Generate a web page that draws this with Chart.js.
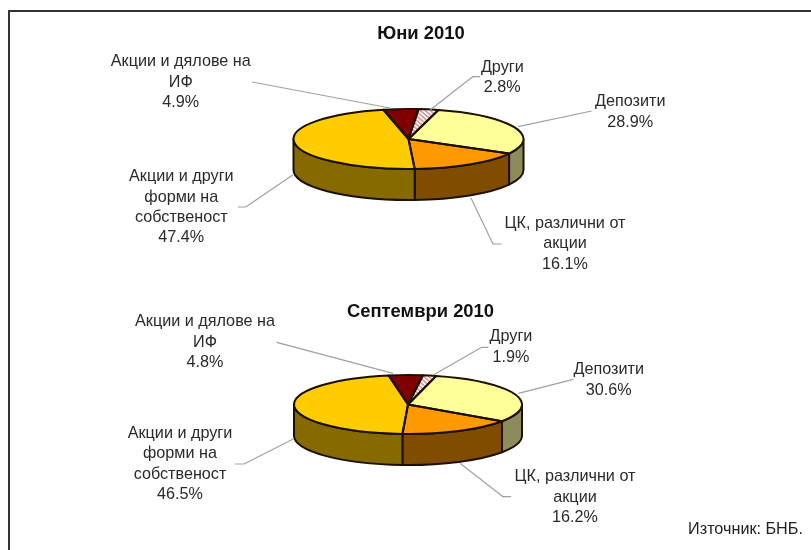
<!DOCTYPE html>
<html><head><meta charset="utf-8">
<style>
html,body{margin:0;padding:0;background:#fff;overflow:hidden}
#page{position:relative;width:811px;height:550px;overflow:hidden;background:#fff}
#frameTop{position:absolute;left:8px;top:10px;width:803px;height:2px;background:#333}
#frameLeft{position:absolute;left:8px;top:10px;width:2px;height:540px;background:#333}
canvas{position:absolute;left:0;filter:blur(0.45px)}
</style>
<script src="https://cdn.jsdelivr.net/npm/chart.js@4"></script>
</head><body>
<div id="page">
<div id="frameTop"></div><div id="frameLeft"></div>
<canvas id="c1" width="811" height="275" style="top:0"></canvas>
<canvas id="c2" width="811" height="275" style="top:275px"></canvas>
</div>
<script>
const categories = ['Други','Депозити','ЦК, различни от акции','Акции и други форми на собственост','Акции и дялове на ИФ'];
const titleJune = 'Юни 2010';
const titleSeptember = 'Септември 2010';
const sourceNote = 'Източник: БНБ.';
const valuesJune = [2.8,28.9,16.1,47.4,4.9];
const valuesSeptember = [1.9,30.6,16.2,46.5,4.8];
const labelLines = [['Други'],['Депозити'],['ЦК, различни от','акции'],['Акции и други','форми на','собственост'],['Акции и дялове на','ИФ']];
const topColors = ['#f7dada','#FFFF99','#FF9900','#FFCC00','#800000'];
const sideColors = ['#7c6d6d','#8b8b5c','#804D00','#866A00','#400000'];

function hatch(){
  const c=document.createElement('canvas');c.width=c.height=5;
  const x=c.getContext('2d');x.fillStyle='#fff';x.fillRect(0,0,5,5);
  x.strokeStyle='#d98f8f';x.lineWidth=1.6;
  x.beginPath();x.moveTo(-1,6);x.lineTo(6,-1);x.moveTo(-1,1);x.lineTo(1,-1);x.moveTo(4,6);x.lineTo(6,4);x.stroke();
  return x.createPattern(c,'repeat');
}

// page-pixel layout of the annotations, per slice in category order
const layoutJune = {
  title:[421,34], offset:0, rotation:5, cy:139, cx:408.5, rx:115, ry:30, depth:31,
  labels:[[502.3,67.3],[630.3,101.7],[565,223.3],[181.3,176.7],[180.8,61.7]],
  leaders:[
    [[480,76.7],[472.7,76.7],[430,110]],
    [[591.7,111],[518,126.7]],
    [[501.7,244],[493,244],[471,198]],
    [[238,207],[245.7,207],[292.7,175]],
    [[252,82],[390,108]]
  ]
};
const layoutSeptember = {
  title:[420.5,312.3], offset:275, rotation:7.5, cy:404.5, cx:408, rx:114, ry:29.5, depth:31,
  labels:[[511,336.7],[608.7,369.7],[575,476.7],[180,433.3],[205,321.7]],
  leaders:[
    [[488.3,347.3],[481.7,347.3],[433.3,375]],
    [[573.3,379.3],[518.3,393.3]],
    [[511,496.7],[503,496.7],[460,463.3]],
    [[235,464],[244,464],[293.3,439]],
    [[276.7,342.3],[393,373.3]]
  ],
  note:[745.5,530]
};

function tiltPlugin(L){return {
  id:'tilt',
  beforeDatasetsDraw(chart){
    const ctx=chart.ctx, arcs=chart.getDatasetMeta(0).data;
    const k=L.ry/L.rx;
    arcs.forEach((el,i)=>{
      const p=el.getProps(['x','y','startAngle','endAngle','outerRadius'],true);
      const a0=Math.max(p.startAngle,0), a1=Math.min(p.endAngle,Math.PI);
      if(a1<=a0) return;
      const rx=p.outerRadius, ry=p.outerRadius*k;
      ctx.beginPath();
      ctx.ellipse(p.x,p.y,rx,ry,0,a0,a1);
      ctx.lineTo(p.x+rx*Math.cos(a1),p.y+ry*Math.sin(a1)+L.depth);
      ctx.ellipse(p.x,p.y+L.depth,rx,ry,0,a1,a0,true);
      ctx.closePath();
      ctx.fillStyle=sideColors[i];ctx.fill();
      ctx.strokeStyle='#1c1000';ctx.lineWidth=2;ctx.lineJoin='round';ctx.stroke();
    });
    const c=arcs[0];
    ctx.save();
    ctx.translate(0,c.y);ctx.scale(1,k);ctx.translate(0,-c.y);
  },
  afterDatasetsDraw(chart){
    const ctx=chart.ctx, arcs=chart.getDatasetMeta(0).data;
    ctx.restore();
    const k=L.ry/L.rx;
    arcs.forEach(el=>{
      const p=el.getProps(['x','y','startAngle','endAngle','outerRadius'],true);
      ctx.beginPath();
      ctx.moveTo(p.x,p.y);
      ctx.ellipse(p.x,p.y,p.outerRadius,p.outerRadius*k,0,p.startAngle,p.endAngle);
      ctx.closePath();
      ctx.strokeStyle='#1c1000';ctx.lineWidth=2;ctx.lineJoin='round';ctx.stroke();
    });
  },
  afterDraw(chart){
    const ctx=chart.ctx, off=L.offset;
    const values=chart.data.datasets[0].data;
    ctx.save();
    ctx.strokeStyle='#a0a0a0';ctx.lineWidth=1.2;
    L.leaders.forEach(pts=>{
      ctx.beginPath();
      pts.forEach((q,j)=>j?ctx.lineTo(q[0],q[1]-off):ctx.moveTo(q[0],q[1]-off));
      ctx.stroke();
    });
    ctx.textAlign='center';ctx.textBaseline='middle';
    ctx.fillStyle='#2a2a2a';ctx.font='16.2px "Liberation Sans"';
    L.labels.forEach((q,i)=>{
      const lines=labelLines[i].concat(values[i].toFixed(1)+'%');
      lines.forEach((t,j)=>ctx.fillText(t,q[0],q[1]-off+j*20.4));
    });
    ctx.fillStyle='#111';ctx.font='bold 18.4px "Liberation Sans"';
    ctx.fillText(chart.options.plugins.tilt.title,L.title[0],L.title[1]-off);
    if(L.note){
      ctx.fillStyle='#222';ctx.font='16.2px "Liberation Sans"';
      ctx.fillText(sourceNote,L.note[0],L.note[1]-off);
    }
    ctx.restore();
  }
};}

function build(id,values,L,title){
  const H=275, top=L.cy-L.offset-L.rx;
  return new Chart(document.getElementById(id),{
    type:'pie',
    data:{labels:categories,datasets:[{
      data:values,
      backgroundColor:[hatch()].concat(topColors.slice(1)),
      borderWidth:0,rotation:L.rotation,clip:false
    }]},
    options:{
      responsive:false,animation:false,events:[],
      layout:{padding:{top:top,bottom:H-top-2*L.rx,left:L.cx-L.rx,right:811-L.cx-L.rx}},
      plugins:{legend:{display:false},title:{display:false},tooltip:{enabled:false},tilt:{title:title}}
    },
    plugins:[tiltPlugin(L)]
  });
}
build('c1',valuesJune,layoutJune,titleJune);
build('c2',valuesSeptember,layoutSeptember,titleSeptember);
</script>
</body></html>
